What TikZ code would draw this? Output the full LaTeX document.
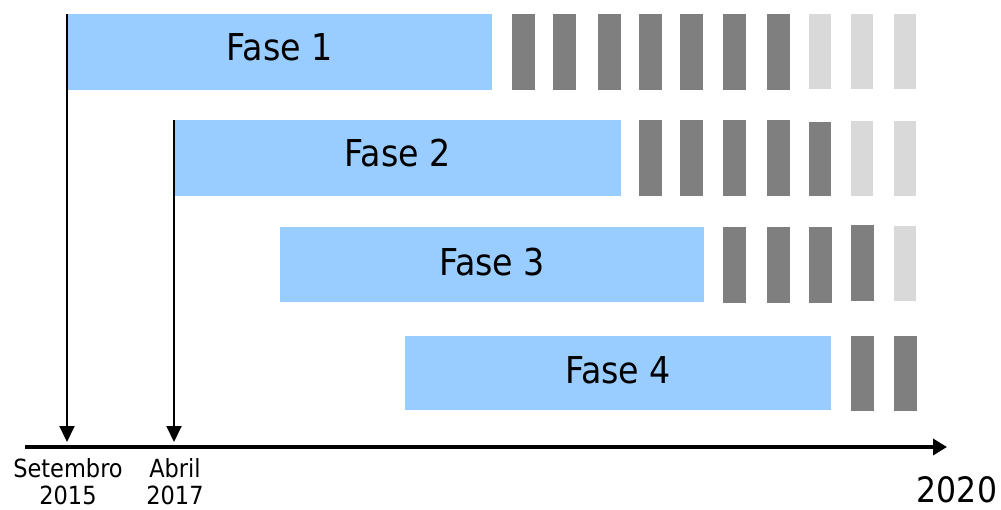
\documentclass[tikz,border=0pt]{standalone}
\usepackage{fontspec}
\setmainfont{DejaVu Sans Condensed}
\usetikzlibrary{arrows.meta}
\definecolor{faseblue}{HTML}{99CCFF}
\definecolor{darkblk}{HTML}{7F7F7F}
\definecolor{lightblk}{HTML}{D9D9D9}
\begin{document}
\begin{tikzpicture}[x=1pt,y=-1pt,
  fasebar/.style={fill=faseblue,draw=none,inner sep=0pt,anchor=north west},
  fasetxt/.style={font=\fontsize{37}{37}\selectfont,inner sep=0pt},
  dblk/.style={fill=darkblk,draw=none,inner sep=0pt,minimum width=23pt,anchor=north west},
  lblk/.style={fill=lightblk,draw=none,inner sep=0pt,minimum width=22pt,anchor=north west},
  datelbl/.style={font=\fontsize{25}{27}\selectfont,align=center,inner sep=0pt},
  marker/.style={line width=2pt,-{Triangle[length=16pt,width=15pt]}}]
\useasboundingbox (0,0) rectangle (1001,510);
% phase bars
\node[fasebar,minimum width=425pt,minimum height=76pt] (f1) at (67,14) {};
\node[fasetxt] (t1) at ([yshift=5pt]f1.center) {Fase 1};
\node[fasebar,minimum width=447pt,minimum height=76pt] (f2) at (174,120) {};
\node[fasetxt] (t2) at ([yshift=5pt]f2.center) {Fase 2};
\node[fasebar,minimum width=424pt,minimum height=75pt] (f3) at (280,227) {};
\node[fasetxt] (t3) at ([yshift=2.5pt]f3.center) {Fase 3};
\node[fasebar,minimum width=426pt,minimum height=74pt] (f4) at (405,336) {};
\node[fasetxt] (t4) at ([yshift=3pt]f4.center) {Fase 4};
% row 1 blocks
\foreach \x [count=\i] in {512,553,598,639,680,723,767}
  \node[dblk,minimum height=76pt] (ra\i) at (\x,14) {};
\foreach \x [count=\i] in {809,851,894}
  \node[lblk,minimum height=75pt] (rla\i) at (\x,14) {};
% row 2 blocks
\foreach \x [count=\i] in {639,680,723,767}
  \node[dblk,minimum height=76pt] (rb\i) at (\x,120) {};
\node[dblk,minimum width=22pt,minimum height=74pt] (rb5) at (809,122) {};
\foreach \x [count=\i] in {851,894}
  \node[lblk,minimum height=75pt] (rlb\i) at (\x,121) {};
% row 3 blocks
\foreach \x [count=\i] in {723,767,809}
  \node[dblk,minimum height=76pt] (rc\i) at (\x,227) {};
\node[dblk,minimum height=76pt] (rc4) at (851,225) {};
\node[lblk,minimum height=75pt] (rlc1) at (894,226) {};
% row 4 blocks
\foreach \x [count=\i] in {851,894}
  \node[dblk,minimum height=75pt] (rd\i) at (\x,336) {};
% axis
\coordinate (axs) at (25,447);
\coordinate (axe) at (947,447);
\draw[line width=4pt,-{Triangle[length=14pt,width=16pt]}] (axs) -- (axe);
% markers
\coordinate (m1top) at (67,14);
\coordinate (m1bot) at (67,442);
\coordinate (m2top) at (174,120);
\coordinate (m2bot) at (174,442);
\draw[marker] (m1top) -- (m1bot);
\draw[marker] (m2top) -- (m2bot);
% labels
\node[datelbl] (l1) at (68,482) {Setembro\\2015};
\node[datelbl] (l2) at (175,482) {Abril\\2017};
\node[font=\fontsize{35}{35}\selectfont,inner sep=0pt] (l3) at (957,490) {2020};
\end{tikzpicture}
\end{document}
